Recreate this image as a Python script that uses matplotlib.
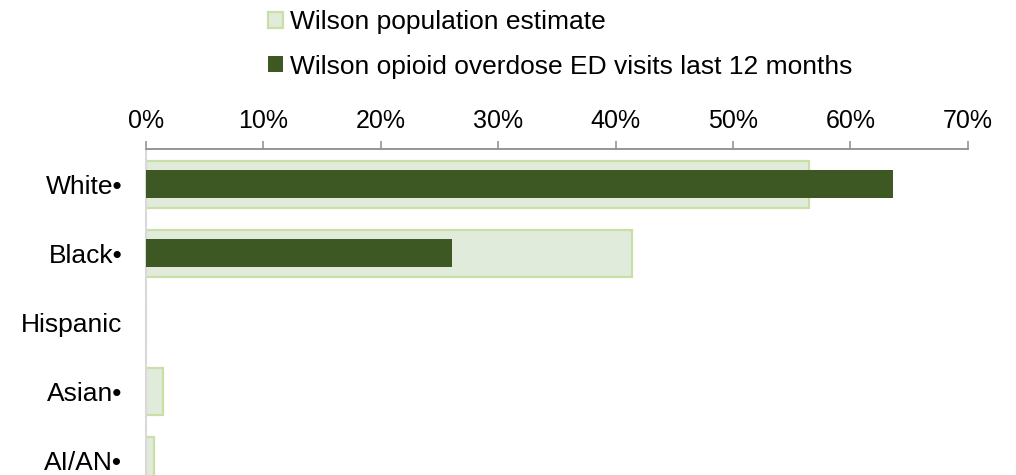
import matplotlib
matplotlib.use("Agg")
import matplotlib.pyplot as plt
import numpy as np
from matplotlib.ticker import FuncFormatter

categories = ["White\u2022", "Black\u2022", "Hispanic", "Asian\u2022", "AI/AN\u2022"]
population = [56.5, 41.4, 0.0, 1.45, 0.7]
opioid_ed = [63.6, 26.1, 0.0, 0.0, 0.0]
xticks = [0, 10, 20, 30, 40, 50, 60, 70]
series_names = ["Wilson population estimate",
                "Wilson opioid overdose ED visits last 12 months"]

plt.rcParams['font.family'] = ['Liberation Sans', 'DejaVu Sans']
FS = 19
FS_TICK = 18

W, H, DPI = 1016, 475, 100
fig = plt.figure(figsize=(W / DPI, H / DPI), dpi=DPI)
left, right, top, bottom = 146, 967.7, 149, 475
ax = fig.add_axes([left / W, 1 - bottom / H, (right - left) / W, (bottom - top) / H])

y = np.arange(len(categories))
ax.barh(y, population, height=0.68, color="#e1ebdc",
        edgecolor="#cadfa6", linewidth=1.6, zorder=2, label=series_names[0])
mask = np.array(opioid_ed) > 0
ax.barh(y[mask], np.array(opioid_ed)[mask], height=0.41, color="#3e5823",
        edgecolor="#3e5823", linewidth=0, zorder=3, label=series_names[1])

ax.set_xlim(0, 70)
ax.set_ylim(4.21, -0.507)
ax.set_xticks(xticks)
ax.xaxis.set_major_formatter(FuncFormatter(lambda v, p: f"{v:.0f}%"))
ax.xaxis.tick_top()
ax.tick_params(axis='x', which='both', top=True, bottom=False, direction='out',
               length=5.5, width=1.1, color="#8c8c8c", labelsize=FS_TICK, pad=6)
ax.set_yticks(y)
ax.set_yticklabels(categories)
ax.tick_params(axis='y', length=0, labelsize=FS, pad=17)

for s in ['right', 'bottom']:
    ax.spines[s].set_visible(False)
ax.spines['top'].set_color("#8c8c8c")
ax.spines['top'].set_linewidth(1.3)
ax.spines['left'].set_color("#d9d9d9")
ax.spines['left'].set_linewidth(1.5)

handles, labels = ax.get_legend_handles_labels()
leg = fig.legend(handles, labels, loc='upper left',
                 bbox_to_anchor=(268 / W, 1 - 10 / H), frameon=False,
                 fontsize=FS, handlelength=0.57, handleheight=0.57,
                 handletextpad=0.28, labelspacing=0.78, borderpad=0,
                 borderaxespad=0)

fig.savefig("out.png", dpi=DPI)
